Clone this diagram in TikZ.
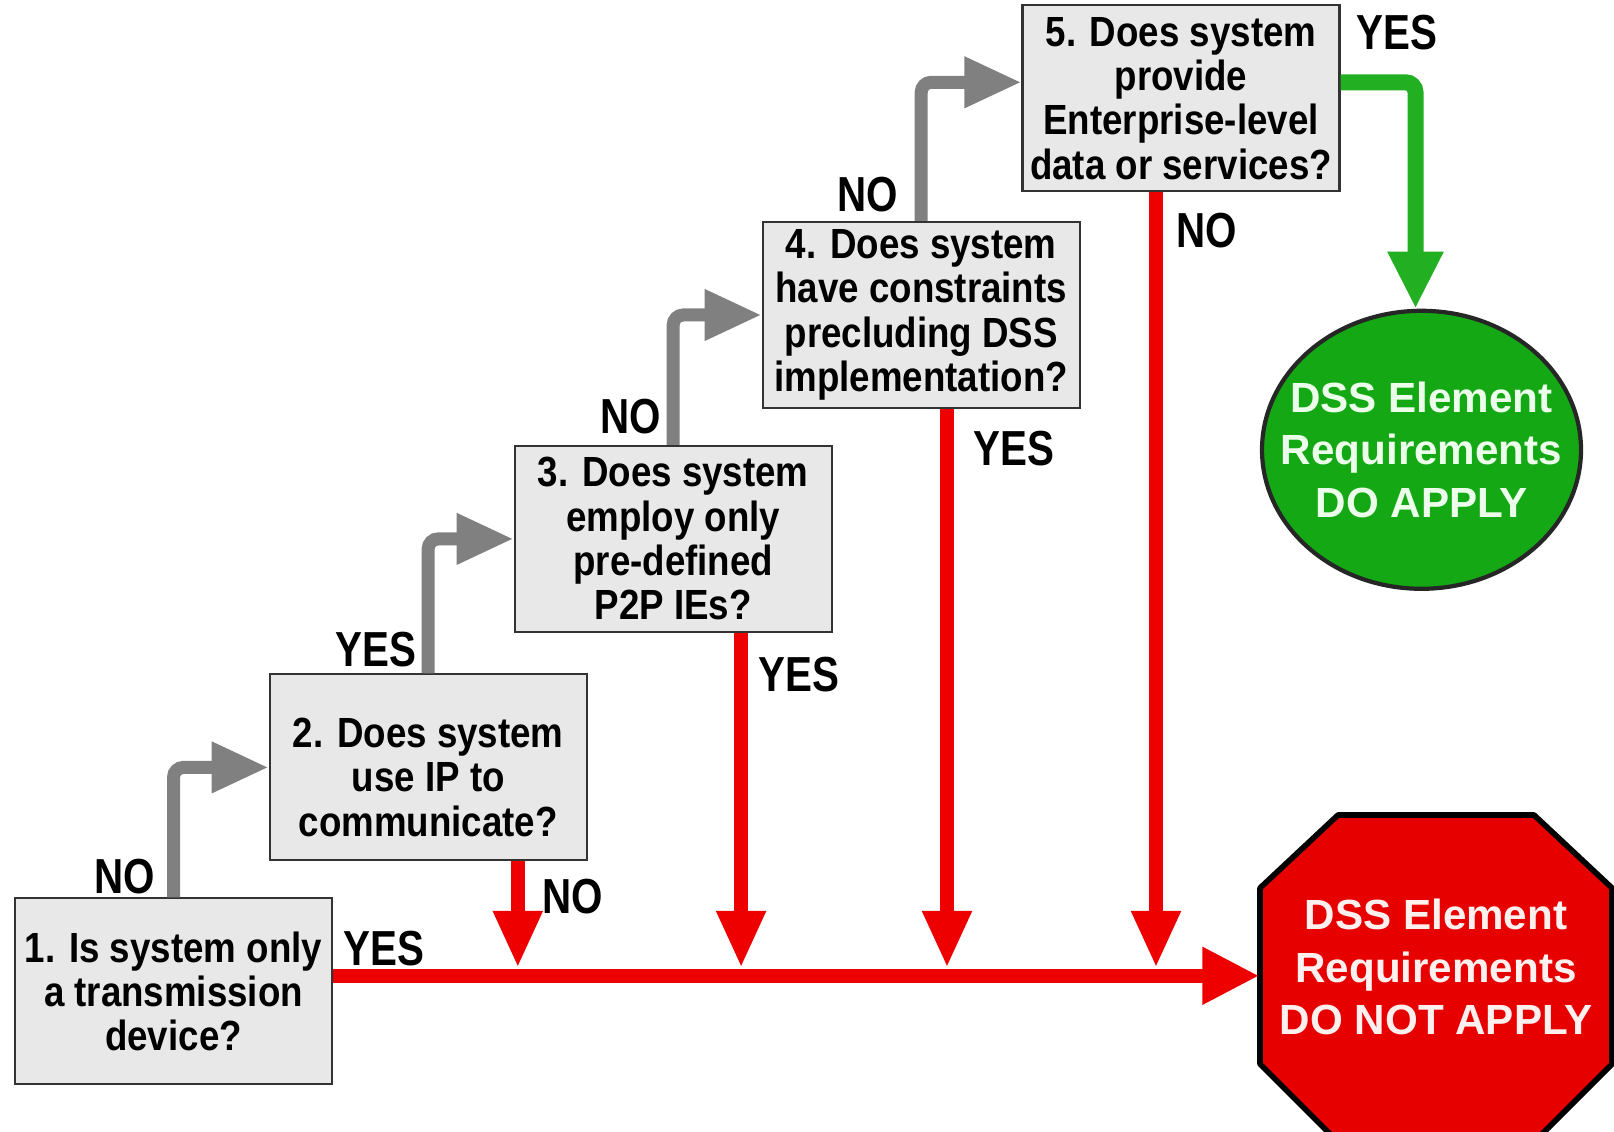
\documentclass[tikz,border=0pt]{standalone}
\usepackage{fontspec}
\setmainfont{Liberation Sans}
\newfontfamily\qfont{Liberation Sans}[FakeStretch=0.87]
\newfontfamily\afont{Liberation Sans}[FakeStretch=0.82]
\usetikzlibrary{arrows.meta,shapes.geometric}

\definecolor{boxgray}{HTML}{E8E8E8}
\definecolor{arrowgray}{HTML}{808080}
\definecolor{nored}{HTML}{EE0000}
\definecolor{yesgreen}{HTML}{22B022}
\definecolor{applygreen}{HTML}{14A814}
\definecolor{stopred}{HTML}{E60000}

\tikzset{
  question/.style={draw=black!80, line width=0.6pt, fill=boxgray,
    minimum width=3.17cm, minimum height=1.86cm, align=center, inner sep=0pt,
    font=\qfont\bfseries\fontsize{12}{12.6}\selectfont},
  answer/.style={font=\afont\bfseries\fontsize{14}{16}\selectfont, inner sep=0pt},
  grayarrow/.style={draw=arrowgray, line width=1.3mm, rounded corners=1mm,
    -{Triangle[length=5.7mm, width=4.8mm]}},
  redarrow/.style={draw=nored, line width=1.4mm,
    -{Triangle[length=5.7mm, width=4.6mm]}},
  greenarrow/.style={draw=yesgreen, line width=1.6mm, rounded corners=1mm,
    -{Triangle[length=5.7mm, width=5.2mm]}},
  result/.style={align=center, inner ysep=0pt,
    font=\bfseries\fontsize{12}{15}\selectfont},
  octagon/.style={draw=black, line width=1.6pt, fill=stopred, line join=round},
}

\begin{document}
\begin{tikzpicture}
  \useasboundingbox (0,0) rectangle (16.14,11.31);

  % the five questions
  \node[question] (b1) at (1.735,1.397) {1. Is system only\\a transmission\\device?};
  \node[question] (b2) at (4.282,3.636) {\rule{0pt}{14pt}2. Does system\\use IP to\\communicate?};
  \node[question] (b3) at (6.732,5.921) {3. Does system\\employ only\\pre-defined\\P2P IEs?};
  \node[question] (b4) at (9.212,8.16) {4. Does system\\have constraints\\precluding DSS\\implementation?};
  \node[question] (b5) at (11.81,10.327) {5. Does system\\provide\\Enterprise-level\\data or services?};

  % the two outcomes
  \node[result, ellipse, draw=black!85, line width=1.2pt, fill=applygreen,
    text=green!8!white, inner xsep=-2.8mm, minimum width=3.19cm, minimum height=2.78cm]
    (apply) at (14.215,6.812) {DSS Element\\Requirements\\DO APPLY};
  \coordinate (stopc) at (14.36,1.57);
  \draw[octagon] (stopc) ++(-1.76,-0.9) -- ++(0,1.76) -- ++(0.78,0.73) -- ++(1.96,0)
    -- ++(0.78,-0.73) -- ++(0,-1.76) -- ++(-0.78,-0.78) -- ++(-1.96,0) -- cycle;
  \node[result, text=red!6!white, minimum width=3.52cm, minimum height=3.18cm]
    (stop) at ([yshift=0.7mm]stopc) {DSS Element\\Requirements\\DO NOT APPLY};

  \coordinate (m1) at ([yshift=1.55mm]b1.east);
  \coordinate (e5) at ([yshift=1.6mm]b5.west);
  \coordinate (g5) at ([yshift=1.6mm]b5.east);
  \coordinate (r2) at ([xshift=8.96mm]b2.south);
  \coordinate (r3) at ([xshift=6.79mm]b3.south);
  \coordinate (r4) at ([xshift=2.58mm]b4.south);
  \coordinate (r5) at ([xshift=-2.5mm]b5.south);

  % gray steps up
  \draw[grayarrow] (b1.north) |- (b2.west);
  \draw[grayarrow] (b2.north) |- (b3.west);
  \draw[grayarrow] (b3.north) |- (b4.west);
  \draw[grayarrow] (b4.north) |- (e5);

  % red ways out
  \draw[redarrow, -{Triangle[length=5.7mm, width=5.4mm]}] (m1) -- (m1 -| stop.west);
  \draw[redarrow, shorten >=0.8mm] (r2) -- (r2 |- m1);
  \draw[redarrow, shorten >=0.8mm] (r3) -- (r3 |- m1);
  \draw[redarrow, shorten >=0.8mm] (r4) -- (r4 |- m1);
  \draw[redarrow, shorten >=0.8mm] (r5) -- (r5 |- m1);

  % green way
  \draw[greenarrow] (g5) -| ([xshift=-0.6mm]apply.north);

  % answers
  \node[answer] (a1) at (1.245,2.54) {NO};
  \node[answer] (a2) at (3.757,4.815) {YES};
  \node[answer] (a3) at (6.31,7.141) {NO};
  \node[answer] (a4) at (8.677,9.365) {NO};
  \node[answer] (a5) at (13.968,10.981) {YES};
  \node[answer] (a6) at (3.839,1.82) {YES};
  \node[answer] (a7) at (5.723,2.344) {NO};
  \node[answer] (a8) at (7.988,4.568) {YES};
  \node[answer] (a9) at (10.139,6.822) {YES};
  \node[answer] (a10) at (12.064,9.004) {NO};
\end{tikzpicture}
\end{document}
